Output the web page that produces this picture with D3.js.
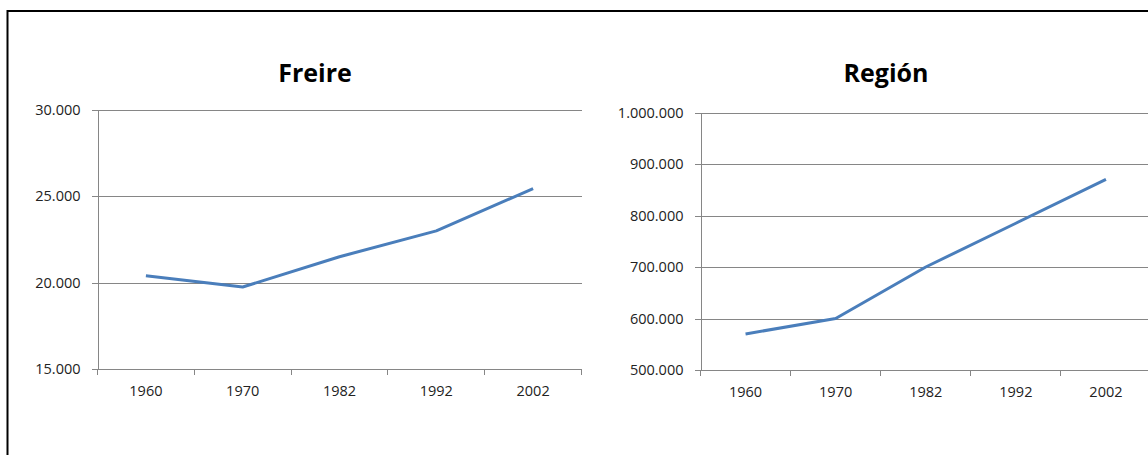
<!DOCTYPE html>
<html>
<head>
<meta charset="utf-8" />
<title>Freire / Región</title>
<style type="text/css">
body { margin: 0; background: #fff; }
.axis path, .axis line { stroke: #868686; shape-rendering: crispEdges; }
.grid line { stroke: #868686; shape-rendering: crispEdges; }
.grid path { display: none; }
.axis text { font-family: "Open Sans", sans-serif; font-size: 14.5px; fill: #222; }
.title { font-family: "Open Sans", sans-serif; font-weight: bold; font-size: 25px; fill: #000; }
.line { fill: none; stroke: #4a7ebb; stroke-width: 3px; stroke-linejoin: round; }
</style>
<script src="https://cdn.jsdelivr.net/npm/d3@7"></script>
</head>
<body>
<svg width="1148" height="455"></svg>
<script type="text/javascript">

var years = ["1960", "1970", "1982", "1992", "2002"];
var freire = [20400, 19750, 21500, 23000, 25450];
var region = [570000, 600000, 700000, 785000, 870000];
var freireTicks = [15000, 20000, 25000, 30000];
var regionTicks = [500000, 600000, 700000, 800000, 900000, 1000000];

var svg = d3.select("svg");

// frame around both charts
svg.append("rect")
  .attr("x", 7.5).attr("y", 11)
  .attr("width", 1200).attr("height", 500)
  .attr("fill", "none").attr("stroke", "#000").attr("stroke-width", 2);

var es = d3.formatLocale({decimal: ",", thousands: ".", grouping: [3], currency: ["$", ""]});
var fmt = es.format(",");

var panels = [
  {title: "Freire", values: freire, ticks: freireTicks, left: 97.5, right: 581.5, top: 110, bottom: 369, titleX: 315},
  {title: "Región", values: region, ticks: regionTicks, left: 700.5, right: 1151, top: 112.5, bottom: 370, titleX: 886}
];

panels.forEach(function(p) {
  var x = d3.scaleBand().domain(years).range([p.left, p.right]);
  var y = d3.scaleLinear()
    .domain([p.ticks[0], p.ticks[p.ticks.length - 1]])
    .range([p.bottom, p.top]);

  var g = svg.append("g");

  g.append("text")
    .attr("class", "title")
    .attr("x", p.titleX).attr("y", 82)
    .attr("text-anchor", "middle")
    .text(p.title);

  // horizontal gridlines
  g.append("g")
    .attr("class", "grid")
    .attr("transform", "translate(" + p.left + ",0)")
    .call(d3.axisLeft(y).tickValues(p.ticks).tickSize(-(p.right - p.left)).tickFormat(""));

  g.append("g")
    .attr("class", "axis")
    .attr("transform", "translate(" + p.left + ",0)")
    .call(d3.axisLeft(y).tickValues(p.ticks).tickSizeInner(6).tickSizeOuter(0).tickPadding(11).tickFormat(fmt));

  var xa = g.append("g")
    .attr("class", "axis")
    .attr("transform", "translate(0," + p.bottom + ")")
    .call(d3.axisBottom(x).tickSize(0).tickPadding(17));

  // category boundary ticks, like Excel
  xa.selectAll(".bound")
    .data(years.concat(["end"]))
    .enter().append("line")
    .attr("class", "bound")
    .attr("x1", function(d) { return d === "end" ? p.right : x(d); })
    .attr("x2", function(d) { return d === "end" ? p.right : x(d); })
    .attr("y1", 0).attr("y2", 6);

  var line = d3.line()
    .x(function(d, i) { return x(years[i]) + x.bandwidth() / 2; })
    .y(function(d) { return y(d); });

  g.append("path")
    .datum(p.values)
    .attr("class", "line")
    .attr("d", line);
});

</script>
</body>
</html>
